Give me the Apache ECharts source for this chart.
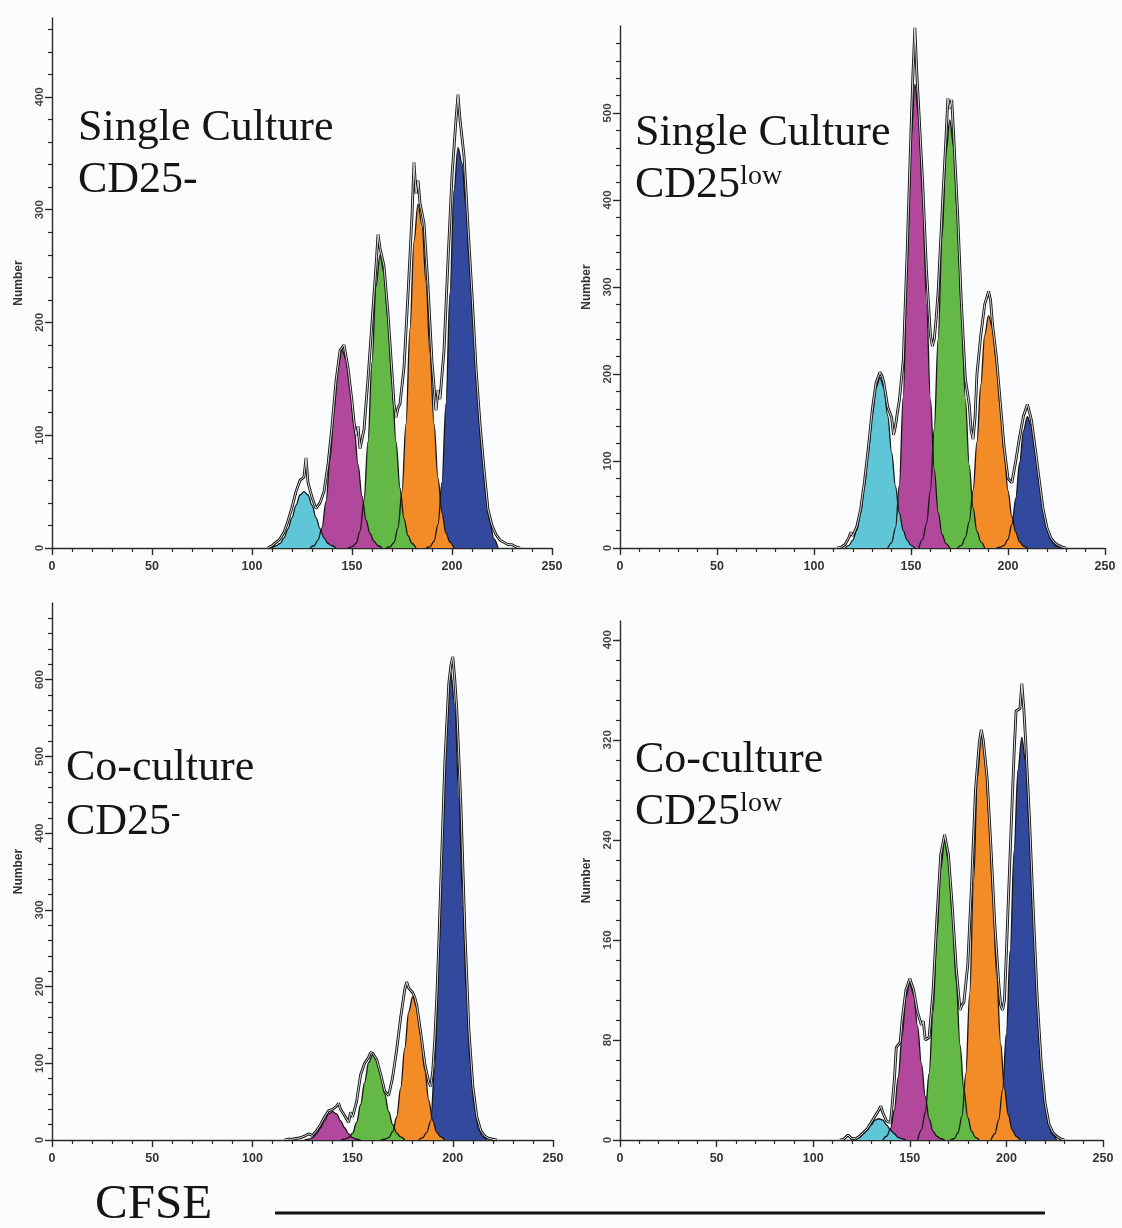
<!DOCTYPE html>
<html><head><meta charset="utf-8">
<script src="https://cdn.jsdelivr.net/npm/echarts@6/dist/echarts.min.js"></script>
<style>html,body{margin:0;padding:0;background:#fbfcfd}#c{width:1122px;height:1228px}</style>
</head><body><div id="c"></div>
<script>
// ---------- tick labels ----------
const xTicks = [0, 50, 100, 150, 200, 250];
const p1YTicks = [0, 100, 200, 300, 400];
const p2YTicks = [0, 100, 200, 300, 400, 500];
const p3YTicks = [0, 100, 200, 300, 400, 500, 600];
const p4YTicks = [0, 80, 160, 240, 320, 400];
const p1YMinor = [20,40,60,80,120,140,160,180,220,240,260,280,320,340,360,380,420,440,460];
const p2YMinor = [20,40,60,80,120,140,160,180,220,240,260,280,320,340,360,380,420,440,460,480,520,540,560,580];
const p3YMinor = [20,40,60,80,120,140,160,180,220,240,260,280,320,340,360,380,420,440,460,480,520,540,560,580,620,640,660,680];
const p4YMinor = [16,32,48,64,96,112,128,144,176,192,208,224,256,272,288,304,336,352,368,384,400];
const peakNames = ['cyan', 'magenta', 'green', 'orange', 'blue'];

// ---------- Panel 1: Single Culture CD25- ----------
const p1Cyan = [[110,0],[112,2],[114,4],[116,9],[118,17],[120,27],[122,38],[124,47],[126,50],[128,47],[130,38],[132,27],[134,17],[136,9],[138,4],[140,2],[142,0]];
const p1Magenta = [[129,0],[131,2],[133,7],[135,18],[137,41],[139,78],[141,122],[143,161],[145,176],[147,167],[149,142],[151,108],[153,74],[155,46],[157,25],[159,13],[161,6],[163,2],[165,0]];
const p1Green = [[148,0],[150,1],[152,4],[154,15],[156,42],[158,94],[160,165],[162,232],[164,260],[166,244],[168,202],[170,146],[172,94],[174,53],[176,26],[178,11],[180,4],[182,0]];
const p1Orange = [[167,0],[169,1],[171,5],[173,18],[175,50],[177,110],[179,194],[181,272],[183,305],[185,286],[187,236],[189,172],[191,110],[193,62],[195,31],[197,13],[199,5],[201,0]];
const p1Blue = [[187,0],[189,1],[191,6],[193,21],[195,58],[197,128],[199,226],[201,317],[203,355],[205,341],[207,302],[209,245],[211,185],[213,128],[215,82],[217,46],[219,22],[221,8],[223,0]];
const p1Outline = [[108,0],[110,2],[112,5],[114,8],[116,14],[118,24],[120,36],[122,50],[124,60],[126,63],[127,80],[128,58],[130,45],[132,35],[134,40],[136,50],[138,74],[140,108],[142,148],[144,175],[146,180],[148,160],[150,130],[151,112],[152,100],[153,108],[154,88],[156,105],[158,150],[160,200],[162,250],[163,278],[164,266],[166,250],[168,208],[170,155],[171,128],[172,116],[173,124],[174,128],[176,160],[178,225],[180,295],[181,342],[182,314],[183,326],[184,306],[186,288],[188,232],[190,165],[192,122],[193,140],[194,132],[196,175],[198,255],[200,330],[202,380],[203,402],[204,380],[206,348],[208,285],[210,225],[212,160],[214,110],[216,70],[218,34],[220,20],[222,12],[224,7],[226,5],[228,3],[230,3],[232,1],[234,0]];

// ---------- Panel 2: Single Culture CD25low ----------
const p2Cyan = [[116,0],[118,3],[120,9],[122,20],[124,40],[126,71],[128,110],[130,152],[132,184],[134,196],[136,184],[138,152],[140,110],[142,71],[144,40],[146,20],[148,9],[150,3],[152,0]];
const p2Magenta = [[138,0],[140,6],[142,23],[144,72],[146,173],[148,324],[150,470],[152,533],[154,496],[156,401],[158,281],[160,171],[162,90],[164,41],[166,16],[168,5],[170,0]];
const p2Green = [[154,0],[156,10],[158,28],[160,66],[162,137],[164,240],[166,357],[168,454],[170,492],[172,461],[174,378],[176,272],[178,171],[180,95],[182,46],[184,19],[186,7],[188,0]];
const p2Orange = [[174,0],[176,3],[178,12],[180,30],[182,66],[184,122],[186,188],[188,245],[190,267],[192,253],[194,214],[196,162],[198,109],[200,66],[202,36],[204,18],[206,7],[208,2],[210,0]];
const p2Blue = [[194,0],[196,1],[198,3],[200,10],[202,27],[204,57],[206,98],[208,135],[210,151],[212,140],[214,111],[216,76],[218,44],[220,22],[222,10],[224,3],[226,1],[228,0]];
const p2Outline = [[112,0],[114,1],[116,4],[118,12],[119,18],[120,14],[122,24],[124,44],[126,76],[128,115],[130,158],[132,190],[134,202],[135,198],[136,190],[138,162],[140,150],[141,130],[142,140],[143,156],[144,170],[146,215],[148,340],[150,480],[151,545],[152,598],[153,545],[154,505],[156,420],[158,318],[160,245],[161,232],[162,240],[163,265],[164,295],[166,385],[168,470],[169,517],[170,505],[171,515],[172,474],[174,386],[176,280],[178,195],[180,165],[181,135],[182,125],[183,150],[184,200],[186,245],[188,280],[190,295],[191,285],[192,258],[194,220],[196,168],[198,116],[200,80],[202,75],[204,100],[206,128],[208,152],[210,165],[212,148],[214,115],[216,80],[218,46],[220,24],[222,12],[224,6],[226,3],[228,1],[230,0]];

// ---------- Panel 3: Co-culture CD25- ----------
const p3Magenta = [[126,0],[128,1],[130,3],[132,8],[134,16],[136,25],[138,34],[140,37],[142,34],[144,25],[146,16],[148,8],[150,3],[152,1],[154,0]];
const p3Green = [[144,0],[146,1],[148,3],[150,9],[152,23],[154,46],[156,75],[158,101],[160,111],[162,104],[164,84],[166,60],[168,37],[170,20],[172,9],[174,4],[176,0]];
const p3Orange = [[164,0],[166,1],[168,3],[170,11],[172,30],[174,68],[176,119],[178,167],[180,187],[182,173],[184,136],[186,91],[188,52],[190,25],[192,10],[194,4],[196,0]];
const p3Blue = [[183,0],[185,3],[187,10],[189,25],[191,95],[193,245],[195,405],[197,550],[199,610],[201,565],[203,448],[205,305],[207,178],[209,89],[211,38],[213,14],[215,4],[217,0]];
const p3Outline = [[116,0],[118,1],[120,1],[122,2],[124,3],[126,5],[128,8],[130,6],[132,12],[134,20],[136,30],[138,38],[140,40],[142,44],[143,48],[144,40],[146,32],[148,23],[149,36],[150,30],[152,50],[154,85],[156,100],[158,108],[159,114],[160,113],[162,105],[164,86],[166,64],[168,58],[170,82],[172,118],[174,160],[176,196],[177,206],[178,198],[180,192],[181,186],[182,176],[184,140],[186,100],[188,75],[189,70],[190,90],[191,130],[192,185],[193,255],[194,335],[196,490],[198,595],[199,618],[200,630],[201,600],[202,560],[204,440],[206,275],[208,145],[210,70],[212,30],[214,12],[216,5],[218,2],[220,1],[222,0]];

// ---------- Panel 4: Co-culture CD25low ----------
const p4Cyan = [[120,0],[122,1],[124,2],[126,5],[128,8],[130,12],[132,16],[134,17],[136,16],[138,12],[140,8],[142,5],[144,2],[146,1],[148,0]];
const p4Magenta = [[136,0],[138,3],[140,9],[142,24],[144,50],[146,83],[148,114],[150,126],[152,116],[154,91],[156,61],[158,35],[160,17],[162,7],[164,3],[166,1],[168,0]];
const p4Green = [[154,0],[156,8],[158,22],[160,53],[162,102],[164,164],[166,217],[168,239],[170,223],[172,180],[174,126],[176,76],[178,40],[180,18],[182,7],[184,2],[186,0]];
const p4Orange = [[171,0],[173,1],[175,6],[177,19],[179,53],[181,117],[183,207],[185,290],[187,325],[189,307],[191,258],[193,194],[195,130],[197,77],[199,41],[201,20],[203,8],[205,3],[207,0]];
const p4Blue = [[192,0],[194,5],[196,16],[198,40],[200,85],[202,152],[204,231],[206,296],[208,322],[210,301],[212,245],[214,174],[216,108],[218,58],[220,27],[222,11],[224,4],[226,0]];
const p4Outline = [[114,0],[116,1],[118,4],[120,1],[122,1],[124,3],[126,6],[128,9],[130,14],[132,19],[134,24],[135,27],[136,22],[138,15],[140,14],[141,30],[142,48],[143,74],[144,76],[145,78],[146,95],[148,120],[150,129],[152,120],[154,102],[156,92],[157,95],[158,80],[160,82],[162,118],[164,176],[166,228],[168,244],[170,228],[172,186],[174,138],[176,104],[177,108],[178,110],[180,140],[182,205],[184,280],[186,318],[187,328],[188,320],[190,290],[192,234],[194,172],[196,126],[197,108],[198,104],[199,112],[200,150],[202,232],[204,310],[205,343],[207,345],[208,365],[209,345],[210,318],[212,255],[214,180],[216,112],[218,62],[220,30],[222,13],[224,6],[226,3],[228,1],[230,0]];

// ---------- layout / styling ----------
const colors = {cyan:'#5fc6d7', magenta:'#b2489c', green:'#64b946', orange:'#f38b26', blue:'#33499d'};
const axisColor = '#2a2a2a';
const panels = [
  {grid:{left:52, top:18, width:500, height:530}, ymax:470, major:p1YTicks, minor:p1YMinor,
   peaks:{cyan:p1Cyan, magenta:p1Magenta, green:p1Green, orange:p1Orange, blue:p1Blue}, outline:p1Outline},
  {grid:{left:620, top:26, width:485, height:522}, ymax:600, major:p2YTicks, minor:p2YMinor,
   peaks:{cyan:p2Cyan, magenta:p2Magenta, green:p2Green, orange:p2Orange, blue:p2Blue}, outline:p2Outline},
  {grid:{left:52, top:603, width:501, height:537}, ymax:700, major:p3YTicks, minor:p3YMinor,
   peaks:{magenta:p3Magenta, green:p3Green, orange:p3Orange, blue:p3Blue}, outline:p3Outline},
  {grid:{left:620, top:621, width:483, height:519}, ymax:415, major:p4YTicks, minor:p4YMinor,
   peaks:{cyan:p4Cyan, magenta:p4Magenta, green:p4Green, orange:p4Orange, blue:p4Blue}, outline:p4Outline}
];

const grids = [], xAxes = [], yAxes = [], series = [];
const sans = '"Liberation Sans", Arial, sans-serif';
panels.forEach((p, i) => {
  grids.push(Object.assign({outerBoundsMode:'none', containLabel:false}, p.grid));
  xAxes.push({
    type:'value', gridIndex:i, min:0, max:250, interval:50,
    axisLine:{show:true, onZero:false, lineStyle:{color:axisColor, width:1.4}},
    axisTick:{show:true, length:7, lineStyle:{color:axisColor, width:1.4}},
    minorTick:{show:true, splitNumber:5, length:4, lineStyle:{color:axisColor, width:1.2}},
    axisLabel:{show:true, margin:12, fontSize:12.5, fontWeight:'bold', color:'#333', fontFamily:sans,
      customValues:xTicks, formatter:v=>String(v)},
    splitLine:{show:false}, minorSplitLine:{show:false}
  });
  yAxes.push({
    type:'value', gridIndex:i, position:'left', min:0, max:p.ymax,
    name:'Number', nameLocation:'middle', nameGap:27, nameRotate:90,
    nameTextStyle:{fontSize:12, fontWeight:'bold', color:'#333', fontFamily:sans},
    axisLine:{show:true, onZero:false, lineStyle:{color:axisColor, width:1.4}},
    axisTick:{show:true, length:7, customValues:p.major, lineStyle:{color:axisColor, width:1.4}},
    axisLabel:{show:true, rotate:90, margin:6, fontSize:11.5, fontWeight:'bold', color:'#444', fontFamily:sans,
      customValues:p.major, formatter:v=>String(v)},
    splitLine:{show:false}
  });
  yAxes.push({
    type:'value', gridIndex:i, position:'left', offset:0, min:0, max:p.ymax,
    axisLine:{show:false}, axisLabel:{show:false},
    axisTick:{show:true, length:4, customValues:p.minor, lineStyle:{color:axisColor, width:1.2}},
    splitLine:{show:false}
  });
  // right-most generation first so lower-CFSE peaks sit on top
  peakNames.slice().reverse().forEach(name => {
    if (!p.peaks[name]) return;
    series.push({
      type:'line', xAxisIndex:i, yAxisIndex:2*i, data:p.peaks[name],
      showSymbol:false, smooth:0.35, smoothMonotone:'x', silent:true,
      lineStyle:{color:'#151515', width:1.3},
      areaStyle:{color:colors[name], opacity:1}
    });
  });
  series.push({
    type:'line', xAxisIndex:i, yAxisIndex:2*i, data:p.outline,
    showSymbol:false, smooth:false, silent:true,
    lineStyle:{color:'#111', width:2.8}
  });
  series.push({
    type:'line', xAxisIndex:i, yAxisIndex:2*i, data:p.outline,
    showSymbol:false, smooth:false, silent:true,
    lineStyle:{color:'#eeeeee', width:0.9}
  });
});

const serif = '"Liberation Serif", "Times New Roman", serif';
const richSup = {sup:{fontSize:28, fontFamily:serif, fill:'#151515', color:'#151515', verticalAlign:'top', lineHeight:30}};
function label(x, y, text, size) {
  return {type:'text', x:x, y:y, z:100, silent:true,
    style:{text:text, fontSize:size||44, fontFamily:serif, fill:'#151515', align:'left', verticalAlign:'middle', rich:richSup}};
}
const graphic = [
  label(78, 128, 'Single Culture'), label(78, 180, 'CD25-'),
  label(635, 133, 'Single Culture'), label(635, 185, 'CD25{sup|low}'),
  label(66, 768, 'Co-culture'), label(66, 822, 'CD25{sup|-}'),
  label(635, 760, 'Co-culture'), label(635, 812, 'CD25{sup|low}'),
  label(95, 1205, 'CFSE', 49),
  {type:'line', silent:true, shape:{x1:275, y1:1213, x2:1045, y2:1213}, style:{stroke:'#111', lineWidth:3}}
];

const chart = echarts.init(document.getElementById('c'), null, {renderer:'canvas'});
chart.setOption({
  backgroundColor:'#fbfcfd', animation:false,
  grid:grids, xAxis:xAxes, yAxis:yAxes, series:series, graphic:graphic
});
</script></body></html>
